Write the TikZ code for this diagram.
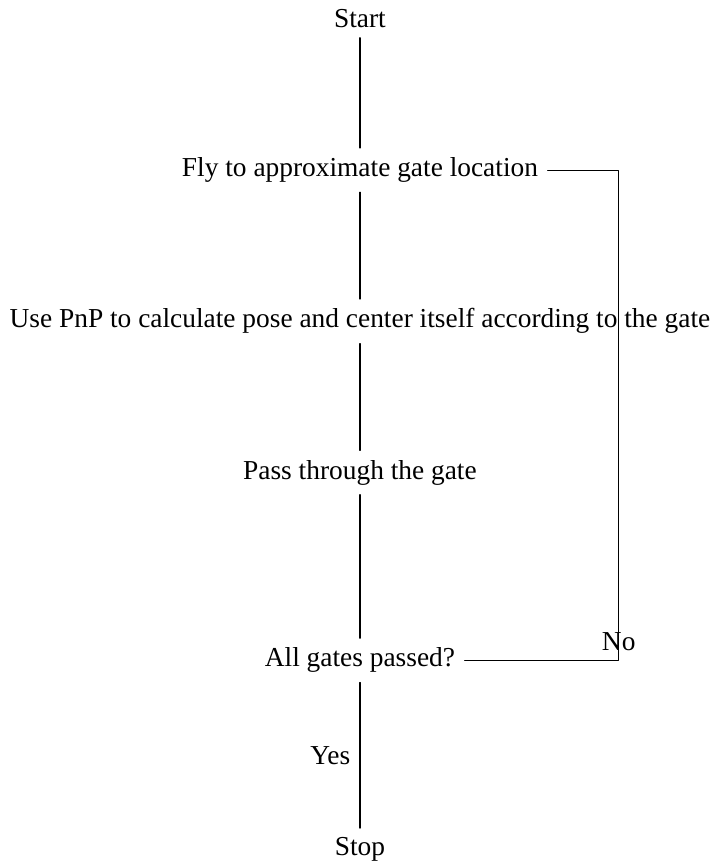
\documentclass[tikz,border=0pt]{standalone}
\usepackage{fontspec}
\setmainfont{Liberation Serif}
\begin{document}
\begin{tikzpicture}[x=1mm,y=1mm,line cap=round,line join=round,
 font=\fontsize{10}{12}\selectfont]
  \node (start) at (0,0) {Start};
  \node (fly) at (0,-19.4) {Fly to approximate gate location};
  \node (pnp) at (0,-38.8) {Use PnP to calculate pose and center itself according to the gate};
  \node (pass) at (0,-58.2) {Pass through the gate};
  \node (check) at (0,-82.3) {All gates passed?};
  \node (stop) at (0,-106.6) {Stop};
  \coordinate (turn) at (33.2,-82.3);
  \draw (start) -- (fly);
  \draw (fly) -- (pnp);
  \draw (pnp) -- (pass);
  \draw (pass) -- (check);
  \draw (check) -- node[left] {Yes} (stop);
  \draw (check) -- (turn) node[above] {No} |- (fly);
  \pgfresetboundingbox
  \useasboundingbox (pnp.west |- start.north) rectangle ([yshift=-1.7mm]pnp.east |- stop.center);
\end{tikzpicture}
\end{document}
